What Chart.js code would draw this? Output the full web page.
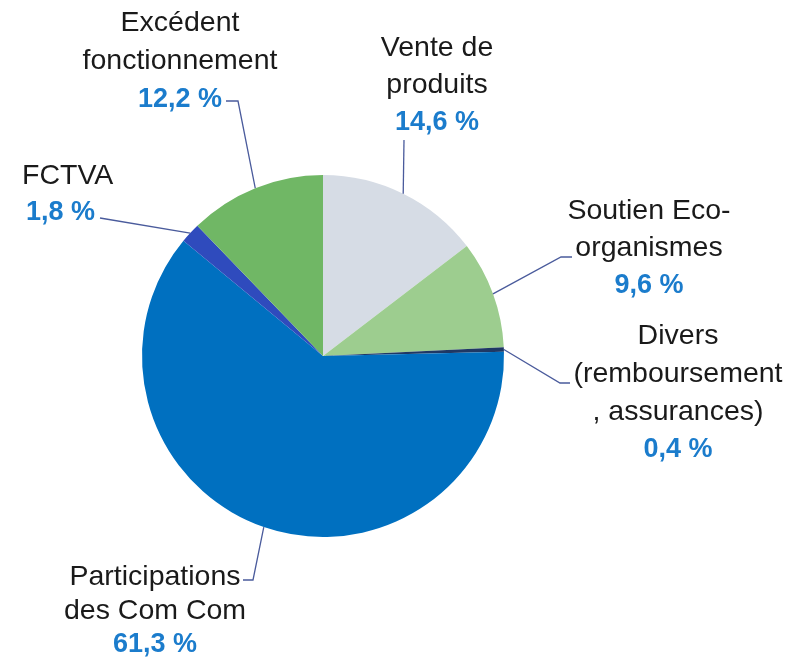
<!DOCTYPE html>
<html>
<head>
<meta charset="utf-8">
<script src="https://cdn.jsdelivr.net/npm/chart.js@4.4.0/dist/chart.umd.min.js"></script>
<style>
  html, body { margin: 0; padding: 0; background: #fff; }
  #wrap { width: 810px; height: 662px; }
</style>
</head>
<body>
<div id="wrap"><canvas id="pie" width="810" height="662"></canvas></div>
<script>
const categories = [
  ['Vente de', 'produits'],
  ['Soutien Eco-', 'organismes'],
  ['Divers', '(remboursement', ', assurances)'],
  ['Participations', 'des Com Com'],
  ['FCTVA'],
  ['Excédent', 'fonctionnement']
];
const shares = [14.6, 9.6, 0.4, 61.3, 1.8, 12.2];
const sliceColors = ['#D6DCE5', '#9DCD8F', '#1F3864', '#0070C0', '#2F4BBD', '#70B765'];

// label placement, relative to the pie centre (px)
const labelLayout = [
  { x: 114, y: -308, lh: 37.5, align: 'center', path: [[81, -216]] },
  { x: 326, y: -145, lh: 37.5, align: 'center', path: [[238, -99], [249, -99]] },
  { x: 355, y: -20, lh: 38, align: 'center', path: [[237, 27], [247, 27]] },
  { x: -168, y: 221, lh: 34, align: 'center', path: [[-70, 224], [-80, 224]] },
  { x: -301, y: -180, lh: 37, align: 'left', path: [[-223, -138]] },
  { x: -143, y: -333, lh: 38.5, align: 'center', path: [[-85, -255], [-97, -255]] }
];

const calloutPlugin = {
  id: 'callouts',
  afterDatasetsDraw(chart) {
    const ctx = chart.ctx;
    const meta = chart.getDatasetMeta(0);
    ctx.save();
    meta.data.forEach((arc, i) => {
      const p = arc.getProps(['x', 'y', 'startAngle', 'endAngle', 'outerRadius'], true);
      const mid = (p.startAngle + p.endAngle) / 2;
      const ex = p.x + Math.cos(mid) * p.outerRadius;
      const ey = p.y + Math.sin(mid) * p.outerRadius;
      const lay = labelLayout[i];
      // leader line
      ctx.strokeStyle = '#4A5B9C';
      ctx.lineWidth = 1.3;
      ctx.beginPath();
      ctx.moveTo(ex, ey);
      lay.path.forEach(pt => ctx.lineTo(p.x + pt[0], p.y + pt[1]));
      ctx.stroke();
      // texts
      const lines = categories[i];
      ctx.textAlign = lay.align;
      ctx.textBaseline = 'middle';
      const tx = p.x + lay.x;
      let ty = p.y + lay.y;
      ctx.fillStyle = '#1A1A1A';
      ctx.font = '28.5px "Liberation Sans", Arial, sans-serif';
      lines.forEach(t => { ctx.fillText(t, tx, ty); ty += lay.lh; });
      ctx.fillStyle = '#1B7CCC';
      ctx.font = 'bold 27px "Liberation Sans", Arial, sans-serif';
      const pct = shares[i].toFixed(1).replace('.', ',') + ' %';
      ctx.fillText(pct, lay.align === 'left' ? tx + 4 : tx, ty);
    });
    ctx.restore();
  }
};

new Chart(document.getElementById('pie'), {
  type: 'pie',
  data: {
    labels: categories.map(l => l.join(' ')),
    datasets: [{
      data: shares,
      backgroundColor: sliceColors,
      borderWidth: 0
    }]
  },
  options: {
    responsive: false,
    animation: false,
    layout: { padding: { top: 175, bottom: 125, left: 142, right: 306 } },
    plugins: {
      legend: { display: false },
      tooltip: { enabled: false }
    }
  },
  plugins: [calloutPlugin]
});
</script>
</body>
</html>
